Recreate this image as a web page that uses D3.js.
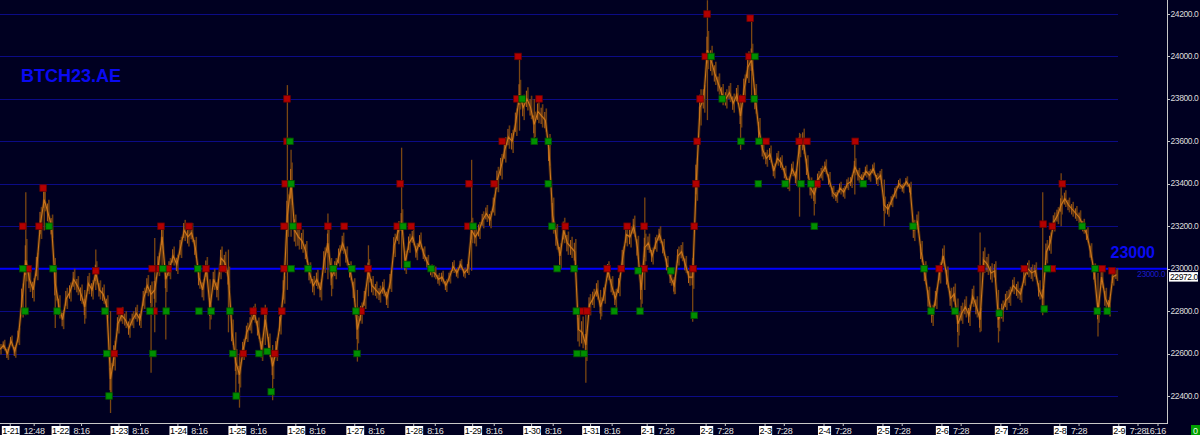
<!DOCTYPE html>
<html><head><meta charset="utf-8">
<script src="https://cdn.jsdelivr.net/npm/d3@7/dist/d3.min.js"></script>
<style>html,body{margin:0;padding:0;background:#000021;overflow:hidden}</style>
</head><body>
<svg id="c" width="1200" height="435"></svg>
<script>
// ---------- DATA ----------
const symbol = "BTCH23.AE";
const refLevel = 23000;
const lastPrice = 22972;
const priceTicks = [22400, 22600, 22800, 23000, 23200, 23400, 23600, 23800, 24000, 24200];
// one close per bar (16 bars per session day)
const closes = [
 22620,22640,22600,22660,22610,22680,22850,23040,22950,22900,23010,23215,23325,23265,23200,22930,
 22820,22760,22860,22890,22950,22920,22880,22820,22930,22900,22980,22900,22880,22820,22480,22590,
 22740,22780,22760,22720,22760,22790,22760,22860,22920,22880,22900,23020,23150,22950,23000,23060,
 23020,23100,23180,23150,23170,23100,22960,22900,23000,22820,22950,22900,23050,23030,22960,22700,
 22560,22500,22620,22700,22740,22790,22720,22620,22760,22640,22540,22620,22740,22900,23250,23400,
 23180,23150,23130,23080,22980,22920,22950,22900,23040,23120,22960,23000,23060,23120,23060,22990,
 22900,22713,22790,22860,22990,22920,22900,22880,22910,22860,22940,23110,23170,23220,23030,23120,
 23150,23080,23130,23070,23030,22990,22980,22950,22960,22920,22960,23010,22980,23020,22980,23000,
 23180,23150,23180,23230,23260,23230,23300,23420,23480,23560,23620,23600,23690,23820,23760,23800,
 23760,23680,23740,23720,23700,23560,23250,23150,23060,23180,23120,23100,23080,22713,22700,22640,
 22830,22860,22900,22820,22880,22990,22920,22860,22920,23050,23160,23150,23200,23100,22900,23100,
 23120,23060,23120,23160,23100,23020,22960,22920,23060,23080,23020,22960,22960,23420,23760,23800,
 24030,23980,23920,23870,23820,23800,23830,23780,23820,23720,23850,23950,23985,23800,23650,23560,
 23520,23540,23460,23520,23500,23450,23400,23470,23430,23580,23600,23480,23380,23350,23420,23450,
 23480,23420,23360,23340,23380,23360,23400,23410,23480,23440,23420,23460,23440,23470,23420,23440,
 23300,23280,23320,23360,23400,23380,23410,23380,23180,23220,23080,22980,22860,22780,22860,22980,
 23060,22960,22860,22880,22740,22790,22820,22780,22870,22820,22760,23040,23020,22980,22990,22760,
 22800,22850,22870,22920,22900,22880,22960,23000,22980,22990,22900,22860,23080,23120,23220,23250,
 23300,23330,23300,23280,23260,23240,23200,23160,23080,22980,22800,22960,22860,22820,22960,22972
];
// high-low span of each bar (price units)
const barRange = [
 50,50,60,50,60,80,160,200,120,110,130,150,110,120,110,160,
 110,90,100,90,100,90,90,110,100,90,110,90,90,110,150,140,
 90,80,80,90,80,80,80,100,100,120,120,110,110,120,100,90,
 90,100,100,90,90,100,110,100,110,120,100,100,110,100,100,120,
 120,120,100,90,90,90,100,110,100,110,120,110,100,130,200,200,
 150,120,110,100,100,90,90,100,120,130,110,100,100,100,90,90,
 110,130,100,100,110,90,80,80,80,90,100,110,110,120,110,90,
 80,80,80,70,70,60,60,60,60,60,60,60,50,50,50,60,
 120,90,80,80,80,80,100,120,120,120,110,110,130,140,120,110,
 110,120,110,110,110,150,170,120,120,120,110,100,120,160,150,150,
 100,90,90,90,90,90,90,90,100,110,110,100,100,110,130,130,
 90,80,80,80,80,80,80,80,90,90,80,80,110,200,170,130,
 180,140,110,100,100,90,90,90,90,110,130,150,150,140,120,90,
 80,80,70,70,70,70,70,70,80,110,120,110,100,90,80,70,
 70,70,60,60,60,60,60,60,80,70,70,60,60,60,60,60,
 80,70,60,60,50,50,50,60,100,100,100,110,110,100,100,100,
 100,100,100,100,110,100,100,100,100,100,110,120,100,90,90,110,
 100,90,90,80,80,80,80,80,80,80,90,120,110,100,90,80,
 90,80,70,70,70,70,70,70,80,90,110,100,100,90,80,60
];
// notable wicks: [bar, low, high]
const wicks = [
 [7,22780,23360],[12,23180,23380],[15,22720,23050],[23,22740,22900],[26,22900,23090],[30,22320,22800],
 [41,22510,22900],[42,22700,23145],[44,23000,23210],[45,22666,23000],[57,22713,22950],[60,22950,23090],
 [62,22700,23090],[64,22400,22700],[65,22345,22600],[72,22640,22830],[74,22380,22640],[78,22900,23865],
 [79,23150,23560],[89,22950,23260],[90,22870,23050],[97,22562,22900],[100,22870,23110],[109,23000,23570],
 [128,22990,23513],[141,23650,23990],[145,23600,23800],[159,22463,22800],[163,22760,22900],[174,22800,23000],
 [175,22900,23335],[183,22880,22960],[188,22750,23050],[192,23700,24265],[201,23560,23820],[204,23800,24170],
 [217,23245,23640],[221,23250,23400],[232,23350,23607],[240,23200,23420],[260,22630,22860],[266,22700,23170],
 [271,22652,22900],[283,22780,23360],[288,23200,23450],[298,22680,22980]
];
// signals: [bar, price]
const sellSignals = [
 [6.2,23200],[7.6,23000],[10.6,23200],[11.7,23380],[26,22990],[31,22600],[32.6,22800],[41.3,23000],[41.8,22800],
 [43.4,23000],[43.7,23200],[45.6,23000],[51.3,23200],[55.9,23000],[60.5,23000],[66,22600],[68.7,22800],
 [71.7,22800],[74.6,22600],[76.5,22800],[77.1,23000],[77.1,23200],[77.4,23400],[77.9,23600],[77.9,23800],
 [80.9,23200],[89,23200],[93.4,23200],[98,22800],[99.9,23000],[107.8,23200],[108.6,23400],[111.6,23200],
 [127,23200],[127.3,23400],[134.1,23400],[136.3,23600],[140.3,23800],[140.6,24000],[146.3,23800],[153.4,23200],
 [158,22800],[159.3,22800],[164.8,23000],[168.6,23000],[170.2,23200],[174.8,23000],[174.8,23200],[188.1,23000],
 [188.4,23200],[188.9,23400],[189.2,23600],[190,23800],[191.4,24000],[191.9,24200],[201.4,23800],[203.3,24000],
 [203.6,24180],[207.9,23600],[216.9,23600],[219,23600],[221.8,23400],[232.1,23600],[254.9,23000],[266.3,23000],
 [278,23000],[283.1,23210],[285.6,23000],[285.6,23200],[288.3,23400],[299.1,23000],[301.8,22990]
];
const buySignals = [
 [6.2,23000],[6.8,22800],[13.3,23200],[14.4,23000],[15.5,22800],[28.5,22800],[29,22600],[29.6,22400],
 [40.7,22800],[41.5,22600],[44.2,23000],[45.1,22800],[53.7,23000],[54,22800],[57.3,22800],[62.4,22800],
 [63.2,22600],[64.1,22400],[70.3,22600],[72.5,22610],[73.6,22420],[78.7,23600],[79,23400],[79,23000],
 [79.5,23200],[83.6,23000],[90.4,23000],[95.5,23000],[96.6,22800],[96.9,22600],[109.4,23200],[110.5,23020],
 [117,23000],[128.4,23200],[141.7,23800],[145,23600],[148.8,23600],[148.8,23400],[149.8,23200],[151.2,23000],
 [155.8,23000],[156.4,22800],[156.6,22600],[158.5,22600],[166.7,22800],[173.2,22990],[173.7,22800],[182.1,22990],
 [188.4,22780],[193,24000],[196,23800],[201.1,23600],[204.7,23800],[204.9,24000],[205.8,23400],[206,23600],
 [213.1,23400],[217.4,23400],[220.1,23400],[221,23200],[234.3,23400],[247.8,23200],[250.8,23000],[252.7,22800],
 [259.2,22800],[271.2,22790],[283.4,22810],[284.2,23000],[293.7,23200],[297.2,23000],[297.8,22800],[300.5,22800]
];
const dates = ["1-21","1-22","1-23","1-24","1-25","1-26","1-27","1-28","1-29","1-30","1-31",
               "2-1","2-2","2-3","2-4","2-5","2-6","2-7","2-8","2-9"];
const sessionTimes = ["12:48","8:16","8:16","8:16","8:16","8:16","8:16","8:16","8:16","8:16","8:16",
               "7:28","7:28","7:28","7:28","7:28","7:28","7:28","7:28","7:28"];
const dayStartBars = [0.5,14,30,46,62,78,94,110,126,142,158,174,190,206,222,238,254,270,286,302];
const lastTime = "16:16";
const statusCount = "0";

// ---------- LAYOUT ----------
const W = 1200, H = 435;
const plotRight = 1167, gridRight = 1118, axisY = 423;
const svg = d3.select("#c");
const x = d3.scaleLinear().domain([0, 317]).range([0, 1168]);
const y = d3.scaleLinear().domain([22400, 24200]).range([396, 14]);
const font = "'Liberation Sans', Arial, sans-serif";

svg.append("rect").attr("width", W).attr("height", H).attr("fill", "#000021");

// grid
svg.append("g").selectAll("line").data(priceTicks.filter(v => v !== refLevel)).join("line")
  .attr("x1", 0).attr("x2", gridRight)
  .attr("y1", d => Math.round(y(d)) + 0.5).attr("y2", d => Math.round(y(d)) + 0.5)
  .attr("stroke", "#0b0b86").attr("stroke-width", 1);

// reference level
svg.append("line").attr("x1", 0).attr("x2", plotRight)
  .attr("y1", y(refLevel)).attr("y2", y(refLevel))
  .attr("stroke", "#0000ff").attr("stroke-width", 2);

// price
const line = d3.line().x((d, i) => x(i)).y(d => y(d)).curve(d3.curveLinear);
svg.append("path").datum(closes).attr("d", line).attr("fill", "none")
  .attr("stroke", "#4e2c0e").attr("stroke-width", 3).attr("stroke-opacity", 0.8);
svg.append("g").selectAll("line").data(closes).join("line")
  .attr("x1", (d, i) => x(i) + 1).attr("x2", (d, i) => x(i) + 1)
  .attr("y1", (d, i) => y(d - barRange[i] / 2)).attr("y2", (d, i) => y(d + barRange[i] / 2))
  .attr("stroke", "#6a3c10").attr("stroke-width", 1.6);
svg.append("g").selectAll("line").data(wicks).join("line")
  .attr("x1", d => x(d[0])).attr("x2", d => x(d[0]))
  .attr("y1", d => y(d[1])).attr("y2", d => y(d[2]))
  .attr("stroke", "#7a4612").attr("stroke-width", 1.3);
svg.append("g").selectAll("line").data(closes).join("line")
  .attr("x1", (d, i) => x(i) - 0.5).attr("x2", (d, i) => x(i) - 0.5)
  .attr("y1", (d, i) => y(d - barRange[i] * 0.35)).attr("y2", (d, i) => y(d + barRange[i] * 0.35))
  .attr("stroke", "#b8661a").attr("stroke-width", 1);
svg.append("path").datum(closes).attr("d", line).attr("fill", "none")
  .attr("stroke", "#cc761c").attr("stroke-width", 1.1);

// signals
const S = 6.5;
function drawSignals(data, fill, stroke) {
  svg.append("g").selectAll("rect").data(data).join("rect")
    .attr("x", d => x(d[0]) - S / 2).attr("y", d => y(d[1]) - S / 2)
    .attr("width", S).attr("height", S)
    .attr("fill", fill).attr("stroke", stroke).attr("stroke-width", 0.8);
}
drawSignals(sellSignals, "#b30000", "#700000");
drawSignals(buySignals, "#009000", "#005200");

// title
svg.append("text").attr("x", 21).attr("y", 82).text(symbol)
  .attr("font-family", font).attr("font-weight", "bold").attr("font-size", 18)
  .attr("fill", "#0a0af2");

// reference label
svg.append("text").attr("x", 1155).attr("y", 258).attr("text-anchor", "end").text(d3.format("d")(refLevel))
  .attr("font-family", font).attr("font-weight", "bold").attr("font-size", 16).attr("fill", "#0a0af2");
svg.append("text").attr("x", 1165).attr("y", 277).attr("text-anchor", "end").text(d3.format(".1f")(refLevel))
  .attr("font-family", font).attr("font-size", 8.5).attr("letter-spacing", -0.4).attr("fill", "#1a1ac8");

// right axis
svg.append("line").attr("x1", plotRight + 0.5).attr("x2", plotRight + 0.5).attr("y1", 0).attr("y2", axisY)
  .attr("stroke", "#c8c8c8").attr("stroke-width", 1);
const ra = svg.append("g");
ra.selectAll("line").data(priceTicks).join("line")
  .attr("x1", plotRight).attr("x2", plotRight + 3)
  .attr("y1", d => Math.round(y(d)) + 0.5).attr("y2", d => Math.round(y(d)) + 0.5)
  .attr("stroke", "#c8c8c8");
ra.selectAll("text").data(priceTicks).join("text")
  .attr("x", plotRight + 3.5).attr("y", d => y(d) + 2.5)
  .text(d => d3.format(".1f")(d))
  .attr("font-family", font).attr("font-size", 8.5).attr("letter-spacing", -0.4).attr("fill", "#dcdcdc");

// last price box
const lpY = y(lastPrice) + 2;
svg.append("rect").attr("x", plotRight + 2).attr("y", lpY - 4.5).attr("width", 29).attr("height", 9.5).attr("fill", "#ffffff");
svg.append("text").attr("x", plotRight + 3).attr("y", lpY + 3.2).text(d3.format(".1f")(lastPrice))
  .attr("font-family", font).attr("font-size", 8.5).attr("letter-spacing", -0.4).attr("fill", "#000");

// bottom axis
svg.append("line").attr("x1", 0).attr("x2", plotRight + 1).attr("y1", axisY + 0.5).attr("y2", axisY + 0.5)
  .attr("stroke", "#c8c8c8");
const ba = svg.append("g");
const bf = 9, bls = -0.3;
dates.forEach((dt, i) => {
  const bx = x(dayStartBars[i]);
  const t = ba.append("text").attr("x", bx + 0.5).attr("y", 434).text(dt)
    .attr("font-family", font).attr("font-size", bf).attr("letter-spacing", bls).attr("fill", "#000");
  const w = t.node().getComputedTextLength();
  ba.insert("rect", "text").attr("x", bx).attr("y", 426).attr("width", w + 1).attr("height", 10).attr("fill", "#fff");
  ba.append("line").attr("x1", bx + w / 2).attr("x2", bx + w / 2).attr("y1", axisY).attr("y2", axisY + 3).attr("stroke", "#c8c8c8");
  const tx = bx + w + 5;
  const tt = ba.append("text").attr("x", tx).attr("y", 434).text(sessionTimes[i])
    .attr("font-family", font).attr("font-size", bf).attr("letter-spacing", bls).attr("fill", "#e0e0e0");
  const tw = tt.node().getComputedTextLength();
  ba.append("line").attr("x1", tx + tw / 2).attr("x2", tx + tw / 2).attr("y1", axisY).attr("y2", axisY + 3).attr("stroke", "#c8c8c8");
});
ba.append("text").attr("x", plotRight - 1).attr("y", 434).attr("text-anchor", "end").text(lastTime)
  .attr("font-family", font).attr("font-size", bf).attr("letter-spacing", bls).attr("fill", "#e0e0e0");
ba.append("line").attr("x1", plotRight - 9).attr("x2", plotRight - 9).attr("y1", axisY).attr("y2", axisY + 3).attr("stroke", "#c8c8c8");

// status box
svg.append("rect").attr("x", 1191).attr("y", 425).attr("width", 9).attr("height", 10).attr("fill", "#00a000");
svg.append("text").attr("x", 1195.5).attr("y", 434).attr("text-anchor", "middle").text(statusCount)
  .attr("font-family", font).attr("font-size", 9).attr("fill", "#e8ffe8");
</script>
</body></html>
